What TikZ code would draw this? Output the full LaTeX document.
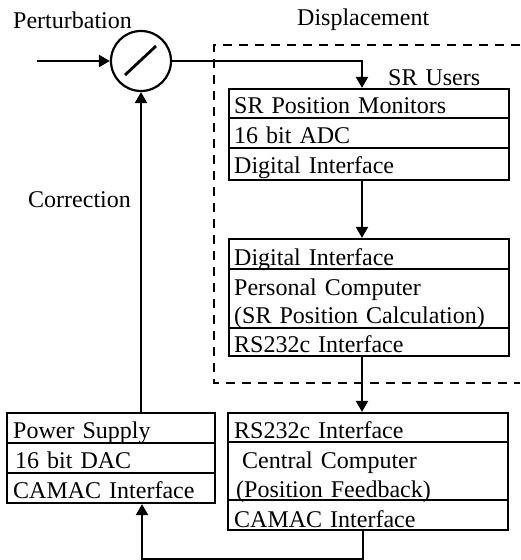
\documentclass[tikz,border=0pt]{standalone}
\usepackage{fontspec}
\setmainfont{Liberation Serif}
\usetikzlibrary{arrows.meta}
\newcommand\mylblfont{\fontsize{24}{27}\selectfont\spaceskip=8pt plus 1pt\relax}
\begin{document}
\begin{tikzpicture}[x=1pt,y=-1pt,
  lw/.style={line width=2.2pt},
  boxst/.style={draw,line width=2.2pt,inner sep=0pt,minimum width=280pt},
  arr/.style={line width=2.2pt,-{Triangle[length=11pt,width=12pt]}},
  lbl/.style={anchor=base west,inner sep=0pt,font=\mylblfont},
  dashst/.style={line width=1.6pt,dash pattern=on 9pt off 7pt}]
\useasboundingbox (0,0) rectangle (520,560);
% dashed SR Users region
\draw[dashst] (520,45) -- (214,45) -- (214,383) -- (520,383);
% summing junction
\node[draw,circle,line width=2.2pt,minimum size=60pt,inner sep=0pt] (sum) at (141,61) {};
\draw[line width=2.8pt] ([shift={(-16pt,-14pt)}]sum.center) -- ([shift={(15pt,15pt)}]sum.center);
% boxes
\node[boxst,minimum height=91pt] (b1) at (369,134.5) {};
\node[boxst,minimum height=117pt] (b2) at (369,297.5) {};
\node[boxst,minimum height=117pt] (b3) at (368,471.5) {};
\node[boxst,minimum width=208pt,minimum height=90pt] (b4) at (111,458) {};
% dividers
\draw[lw] (229,118) -- (509,118);
\draw[lw] (229,148) -- (509,148);
\draw[lw] (229,269) -- (509,269);
\draw[lw] (229,328) -- (509,328);
\draw[lw] (228,442) -- (508,442);
\draw[lw] (228,500) -- (508,500);
\draw[lw] (7,443) -- (215,443);
\draw[lw] (7,473) -- (215,473);
% labels
\node[lbl] (tpert) at (13,28) {Perturbation};
\node[lbl] (tdisp) at (297,25) {Displacement};
\node[lbl] (tusers) at (388,85) {SR Users};
\node[lbl] (tcorr) at (28,207) {Correction};
\node[lbl] (r11) at (234,113) {SR Position Monitors};
\node[lbl] (r12) at (234,143) {16 bit ADC};
\node[lbl] (r13) at (234,173) {Digital Interface};
\node[lbl] (r21) at (234,265) {Digital Interface};
\node[lbl] (r22) at (234,295) {Personal Computer};
\node[lbl] (r23) at (234,323) {(SR Position Calculation)};
\node[lbl] (r24) at (234,352) {RS232c Interface};
\node[lbl] (r31) at (234,438) {RS232c Interface};
\node[lbl] (r32) at (242,468) {Central Computer};
\node[lbl] (r33) at (236,497) {(Position Feedback)};
\node[lbl] (r34) at (234,527) {CAMAC Interface};
\node[lbl] (r41) at (13,438) {Power Supply};
\node[lbl] (r42) at (15,468) {16 bit DAC};
\node[lbl] (r43) at (13,498) {CAMAC Interface};
% connectors
\coordinate (in) at (37,61);
\draw[arr] (in) -- (sum.west);
\draw[arr] (sum.east) -| ([xshift=-7pt]b1.north);
\draw[arr] ([xshift=-7pt]b1.south) -- ([xshift=-7pt]b2.north);
\draw[arr] ([xshift=-7pt]b2.south) -- ([xshift=-6pt]b3.north);
\draw[arr] ([xshift=-5pt]b3.south) -- ++(0,28) -| ([xshift=31pt]b4.south);
\draw[arr] ([xshift=30pt]b4.north) -- (sum.south);
\end{tikzpicture}
\end{document}
